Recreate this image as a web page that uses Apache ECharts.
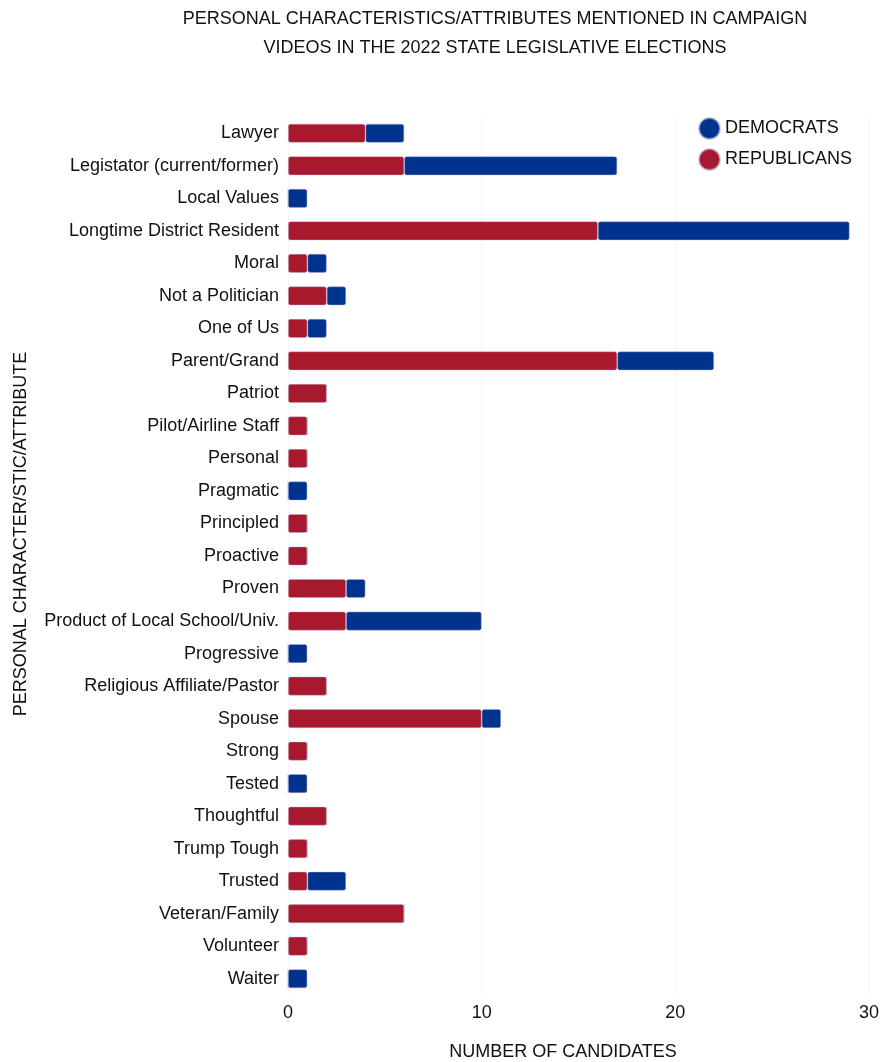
<!DOCTYPE html>
<html>
<head>
<meta charset="utf-8">
<script src="https://cdn.jsdelivr.net/npm/echarts@6/dist/echarts.min.js"></script>
<style>
  html, body { margin: 0; padding: 0; background: #ffffff; }
  #chart { width: 888px; height: 1062px; }
</style>
</head>
<body>
<div id="chart"></div>
<script>
// Attributes mentioned in 2022 state legislative campaign videos
const categories = [
  'Lawyer', 'Legistator (current/former)', 'Local Values', 'Longtime District Resident',
  'Moral', 'Not a Politician', 'One of Us', 'Parent/Grand', 'Patriot',
  'Pilot/Airline Staff', 'Personal', 'Pragmatic', 'Principled', 'Proactive',
  'Proven', 'Product of Local School/Univ.', 'Progressive', 'Religious Affiliate/Pastor',
  'Spouse', 'Strong', 'Tested', 'Thoughtful', 'Trump Tough', 'Trusted',
  'Veteran/Family', 'Volunteer', 'Waiter'
];
const republicans = [4, 6, 0, 16, 1, 2, 1, 17, 2, 1, 1, 0, 1, 1, 3, 3, 0, 2, 10, 1, 0, 2, 1, 1, 6, 1, 0];
const democrats   = [2, 11, 1, 13, 1, 1, 1, 5, 0, 0, 0, 1, 0, 0, 1, 7, 1, 0, 1, 0, 1, 0, 0, 2, 0, 0, 1];
const xTicks = [0, 10, 20, 30];

const RED = '#A8192E';
const BLUE = '#00338D';
const FONT = '"Liberation Sans", Arial, sans-serif';
const FS = 18;

const chart = echarts.init(document.getElementById('chart'), null, { renderer: 'canvas' });

const barStyle = (color) => ({
  color: color,
  borderRadius: 2,
  borderColor: 'rgba(180,170,210,0.55)',
  borderWidth: 0.8
});

chart.setOption({
  backgroundColor: '#ffffff',
  animation: false,
  textStyle: { fontFamily: FONT },
  title: {
    text: 'PERSONAL CHARACTERISTICS/ATTRIBUTES MENTIONED IN CAMPAIGN\nVIDEOS IN THE 2022 STATE LEGISLATIVE ELECTIONS',
    left: 490,
    top: 0,
    textAlign: 'center',
    textStyle: {
      fontFamily: FONT,
      fontSize: FS,
      fontWeight: 'normal',
      color: '#111111',
      lineHeight: 29
    }
  },
  legend: {
    data: ['DEMOCRATS', 'REPUBLICANS'],
    orient: 'vertical',
    left: 698,
    top: 117,
    padding: 0,
    icon: 'circle',
    itemWidth: 21,
    itemHeight: 21,
    itemGap: 8,
    textStyle: { fontFamily: FONT, fontSize: FS, color: '#111111' }
  },
  grid: {
    left: 288,
    right: 19,
    top: 117,
    bottom: 67,
    containLabel: false
  },
  xAxis: {
    type: 'value',
    min: 0,
    max: 30,
    interval: 10,
    axisLine: { show: false },
    axisTick: { show: false },
    splitLine: { show: true, lineStyle: { color: '#f5f5f5', width: 1 } },
    axisLabel: {
      fontFamily: FONT,
      fontSize: FS,
      color: '#111111',
      margin: 9,
      formatter: (v) => (xTicks.includes(v) ? String(v) : '')
    }
  },
  yAxis: {
    type: 'category',
    data: categories,
    inverse: true,
    axisLine: { show: false },
    axisTick: { show: false },
    splitLine: { show: false },
    axisLabel: {
      fontFamily: FONT,
      fontSize: FS,
      color: '#111111',
      margin: 9
    }
  },
  graphic: [
    {
      type: 'text',
      x: 563,
      y: 1052,
      style: {
        text: 'NUMBER OF CANDIDATES',
        textAlign: 'center',
        textVerticalAlign: 'middle',
        fontFamily: FONT,
        fontSize: FS,
        fill: '#111111'
      }
    },
    {
      type: 'text',
      x: 21,
      y: 534,
      rotation: Math.PI / 2,
      style: {
        text: 'PERSONAL CHARACTER/STIC/ATTRIBUTE',
        textAlign: 'center',
        textVerticalAlign: 'middle',
        fontFamily: FONT,
        fontSize: FS,
        fill: '#111111'
      }
    }
  ],
  series: [
    {
      name: 'REPUBLICANS',
      type: 'bar',
      stack: 'total',
      barWidth: 19,
      data: republicans,
      itemStyle: barStyle(RED)
    },
    {
      name: 'DEMOCRATS',
      type: 'bar',
      stack: 'total',
      barWidth: 19,
      data: democrats,
      itemStyle: barStyle(BLUE)
    }
  ]
});
</script>
</body>
</html>
